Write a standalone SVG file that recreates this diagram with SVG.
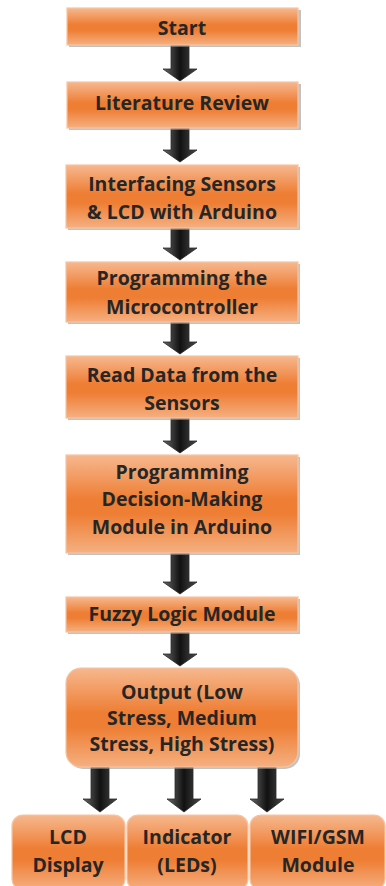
<svg xmlns="http://www.w3.org/2000/svg" width="386" height="886" viewBox="0 0 386 886">
<defs>
<linearGradient id="og" x1="0" y1="0" x2="0" y2="1">
<stop offset="0" stop-color="#f6b88f"/>
<stop offset="0.45" stop-color="#ee7e34"/>
<stop offset="0.6" stop-color="#ee7e34"/>
<stop offset="1" stop-color="#f5b081"/>
</linearGradient>
<linearGradient id="ag" x1="0" y1="0" x2="1" y2="0">
<stop offset="0" stop-color="#6a6a6a"/>
<stop offset="0.5" stop-color="#111"/>
<stop offset="1" stop-color="#4a4a4a"/>
</linearGradient>
</defs>
<style>
.sh{fill:#9a9a9a;opacity:0.6}
.bx{fill:url(#og);stroke:#f8c4a0;stroke-width:1.2}
.ar{fill:url(#ag);stroke:#2a2a2a;stroke-width:0.8}
text{font-family:"Open Sans","Liberation Sans",Arial,sans-serif;font-weight:bold;font-size:19.5px;fill:#262626;text-anchor:middle;dominant-baseline:central}
</style>
<g id="connectors">
<path class="ar" d="M171,45 H189 V69 H197 L180,81 L163,69 H171 Z"/>
<path class="ar" d="M171,128 H189 V150 H197 L180,162 L163,150 H171 Z"/>
<path class="ar" d="M171,228 H189 V248 H197 L180,260 L163,248 H171 Z"/>
<path class="ar" d="M171,322 H189 V342 H197 L180,354 L163,342 H171 Z"/>
<path class="ar" d="M171,418 H189 V441 H197 L180,453 L163,441 H171 Z"/>
<path class="ar" d="M171,553 H189 V582 H197 L180,594 L163,582 H171 Z"/>
<path class="ar" d="M171,632 H189 V654 H197 L180,666 L163,654 H171 Z"/>
<path class="ar" d="M91,767 H109 V799 H117 L100,812 L83,799 H91 Z"/>
<path class="ar" d="M175,767 H193 V799 H201 L184,812 L167,799 H175 Z"/>
<path class="ar" d="M258,767 H276 V799 H284 L267,812 L250,799 H258 Z"/>
</g>
<g id="start">
<rect class="sh" x="69" y="10" width="232" height="37"/>
<rect class="bx" x="67" y="8" width="231" height="37"/>
<text x="182" y="27">Start</text>
</g>
<g id="literature">
<rect class="sh" x="69" y="84" width="232" height="46"/>
<rect class="bx" x="67" y="82" width="231" height="46"/>
<text x="182" y="102">Literature Review</text>
</g>
<g id="interfacing">
<rect class="sh" x="68" y="167" width="232" height="63"/>
<rect class="bx" x="66" y="165" width="232" height="63"/>
<text x="182" y="183">Interfacing Sensors</text>
<text x="182" y="211">&amp; LCD with Arduino</text>
</g>
<g id="programming">
<rect class="sh" x="68" y="264" width="232" height="60"/>
<rect class="bx" x="66" y="262" width="232" height="60"/>
<text x="182" y="277">Programming the</text>
<text x="182" y="306">Microcontroller</text>
</g>
<g id="readdata">
<rect class="sh" x="68" y="358" width="232" height="62"/>
<rect class="bx" x="66" y="356" width="232" height="62"/>
<text x="182" y="374">Read Data from the</text>
<text x="182" y="402">Sensors</text>
</g>
<g id="decision">
<rect class="sh" x="68" y="457" width="232" height="98"/>
<rect class="bx" x="66" y="455" width="232" height="98"/>
<text x="182" y="471">Programming</text>
<text x="182" y="498">Decision-Making</text>
<text x="182" y="526">Module in Arduino</text>
</g>
<g id="fuzzy">
<rect class="sh" x="68" y="599" width="232" height="35"/>
<rect class="bx" x="66" y="597" width="232" height="35"/>
<text x="182" y="613">Fuzzy Logic Module</text>
</g>
<g id="output">
<rect class="sh" x="68" y="670" width="232" height="99" rx="15"/>
<rect class="bx" x="66" y="668" width="232" height="99" rx="15"/>
<text x="182" y="691">Output (Low</text>
<text x="182" y="717">Stress, Medium</text>
<text x="182" y="743">Stress, High Stress)</text>
</g>
<g id="lcd">
<rect class="bx" x="12" y="815" width="113" height="75" rx="11"/>
<text x="68" y="836">LCD</text>
<text x="68" y="864">Display</text>
</g>
<g id="indicator">
<rect class="bx" x="127" y="815" width="121" height="75" rx="11"/>
<text x="187" y="836">Indicator</text>
<text x="187" y="864">(LEDs)</text>
</g>
<g id="wifi">
<rect class="bx" x="250" y="815" width="135" height="75" rx="11"/>
<text x="318" y="836">WIFI/GSM</text>
<text x="318" y="864">Module</text>
</g>
</svg>
